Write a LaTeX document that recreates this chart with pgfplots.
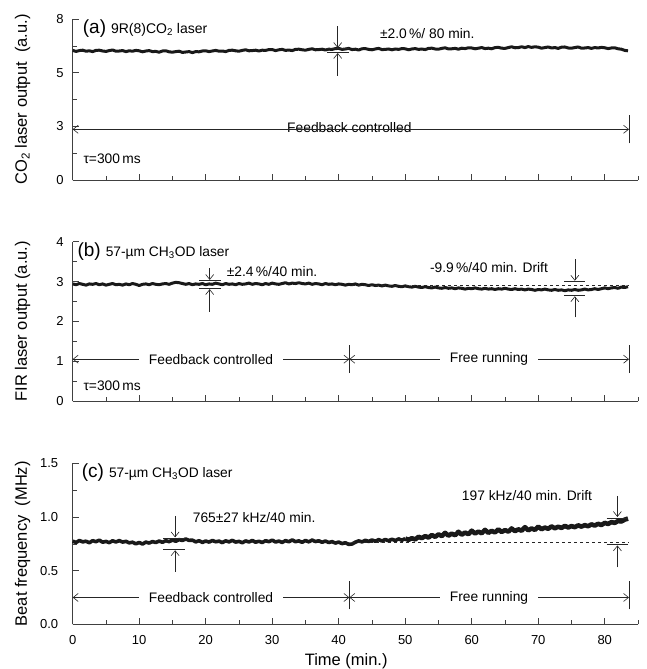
\documentclass[border=0pt]{standalone}
\usepackage{fontspec}
\setmainfont{Liberation Sans}
\usepackage{pgfplots}
\pgfplotsset{compat=1.18}
\usetikzlibrary{arrows.meta}

\newcommand\af{\fontsize{13.8}{16}\selectfont}
\newcommand\lf{\fontsize{16.5}{19}\selectfont}
\newcommand\pf{\fontsize{19}{22}\selectfont}

\pgfplotsset{
  panel/.style={
    scale only axis, width=565.3pt,
    xmin=0, xmax=85, axis lines=left,
    axis line style={-, black!75, line width=0.6pt},
    xtick={0,10,...,80}, minor xtick={5,15,...,85},
    tick align=inside, major tick length=6pt, minor tick length=4pt,
    tick style={black!75, line width=0.6pt},
    ticklabel style={font=\fontsize{13}{15}\selectfont},
    /pgf/number format/assume math mode=true,
    yticklabel shift=5.5pt,
    xticklabel shift=7.4pt,
    ylabel style={at={(axis description cs:-0.0884,0.5)}, anchor=center, font=\lf},
    clip=false,
  },
}
\tikzset{
  trace/.style={black!90, line width=3pt, line join=round, mark=none},
  ar/.style={-{Straight Barb[length=5pt,width=8pt]}, line width=0.6pt, black!85},
  lr/.style={{Straight Barb[length=5pt,width=8pt]}-{Straight Barb[length=5pt,width=8pt]}, line width=0.6pt, black!85},
  bar/.style={line width=0.6pt, black!85},
}

\begin{document}
\begin{tikzpicture}
\useasboundingbox (0,0) rectangle (647pt,-669pt);

% (a) CO2 laser
\begin{axis}[panel, at={(72.7pt,-180pt)}, anchor=south west, height=161pt,
  ymin=0, ymax=8, ytick={0,2.6667,5.3333,8}, yticklabels={0,3,5,8},
  minor ytick={1.3333,4,6.6667}, xticklabels={},
  ylabel={CO\textsubscript{2} laser output\ \ (a.u.)}]
\addplot[trace] coordinates {
(0,6.44) (0.5,6.39) (1,6.43) (1.5,6.45) (2,6.40) (2.5,6.42) (3,6.38) (3.5,6.44) (4,6.45) (4.5,6.41)
(5,6.39) (5.5,6.43) (6,6.46) (6.5,6.40) (7,6.41) (7.5,6.43) (8,6.38) (8.5,6.42) (9,6.40) (9.5,6.44)
(10,6.42) (10.5,6.37) (11,6.41) (11.5,6.43) (12,6.38) (12.5,6.39) (13,6.35) (13.5,6.41) (14,6.42) (14.5,6.37)
(15,6.35) (15.5,6.38) (16,6.40) (16.5,6.34) (17,6.36) (17.5,6.38) (18,6.33) (18.5,6.38) (19,6.37) (19.5,6.41)
(20,6.42) (20.5,6.38) (21,6.41) (21.5,6.44) (22,6.40) (22.5,6.41) (23,6.38) (23.5,6.44) (24,6.45) (24.5,6.42)
(25,6.40) (25.5,6.44) (26,6.47) (26.5,6.42) (27,6.43) (27.5,6.45) (28,6.41) (28.5,6.45) (29,6.44) (29.5,6.48)
(30,6.48) (30.5,6.43) (31,6.47) (31.5,6.49) (32,6.44) (32.5,6.46) (33,6.43) (33.5,6.49) (34,6.50) (34.5,6.47)
(35,6.45) (35.5,6.49) (36,6.52) (36.5,6.47) (37,6.48) (37.5,6.50) (38,6.46) (38.5,6.50) (39,6.49) (39.5,6.53)
(40,6.54) (40.5,6.49) (41,6.51) (41.5,6.54) (42,6.48) (42.5,6.50) (43,6.46) (43.5,6.52) (44,6.53) (44.5,6.49)
(45,6.47) (45.5,6.51) (46,6.54) (46.5,6.48) (47,6.49) (47.5,6.51) (48,6.47) (48.5,6.51) (49,6.49) (49.5,6.53)
(50,6.52) (50.5,6.47) (51,6.51) (51.5,6.53) (52,6.49) (52.5,6.51) (53,6.48) (53.5,6.54) (54,6.55) (54.5,6.51)
(55,6.50) (55.5,6.54) (56,6.57) (56.5,6.51) (57,6.52) (57.5,6.54) (58,6.50) (58.5,6.55) (59,6.53) (59.5,6.57)
(60,6.56) (60.5,6.52) (61,6.55) (61.5,6.58) (62,6.53) (62.5,6.55) (63,6.52) (63.5,6.58) (64,6.59) (64.5,6.55)
(65,6.54) (65.5,6.58) (66,6.62) (66.5,6.57) (67,6.58) (67.5,6.62) (68,6.58) (68.5,6.63) (69,6.59) (69.5,6.62)
(70,6.60) (70.5,6.55) (71,6.58) (71.5,6.61) (72,6.56) (72.5,6.58) (73,6.54) (73.5,6.60) (74,6.61) (74.5,6.56)
(75,6.55) (75.5,6.58) (76,6.61) (76.5,6.55) (77,6.56) (77.5,6.58) (78,6.54) (78.5,6.58) (79,6.56) (79.5,6.59)
(80,6.57) (80.5,6.53) (81,6.56) (81.5,6.57) (82,6.52) (82.5,6.50) (83,6.44) (83.5,6.42)
};
\node[anchor=base west, inner sep=0pt] at (1.5,7.28) {\pf (a)\hspace{5pt}{\fontsize{14}{16}\selectfont 9R(8)CO\textsubscript{2} laser}};
\node[anchor=base west, inner sep=0pt] at (1.6,0.83) {\af τ=300\,ms};
\node[anchor=base west, inner sep=0pt] at (46.2,7.04) {\af ±2.0\,\%/ 80 min.};
\draw[ar] (39.85,7.65) -- (39.85,6.56);
\draw[ar] (39.85,5.17) -- (39.85,6.31);
\draw[bar] (38.3,6.54) -- (41.6,6.54);
\draw[bar] (38.3,6.33) -- (41.6,6.33);
\node[anchor=base, inner sep=0pt] at (41.6,2.37) {\af Feedback controlled};
\draw[lr] (0,2.52) -- (83.65,2.52);
\draw[bar] (83.65,1.82) -- (83.65,3.23);
\end{axis}

% (b) FIR laser
\begin{axis}[panel, at={(72.7pt,-401pt)}, anchor=south west, height=159.3pt,
  ymin=0, ymax=4, ytick={0,1,2,3,4}, minor ytick={0.5,1.5,2.5,3.5}, xticklabels={},
  ylabel={FIR laser output (a.u.)}]
\addplot[trace] coordinates {
(0,2.94) (0.5,2.92) (1,2.95) (1.5,2.93) (2,2.91) (2.5,2.94) (3,2.93) (3.5,2.95) (4,2.92) (4.5,2.94)
(5,2.91) (5.5,2.93) (6,2.95) (6.5,2.92) (7,2.93) (7.5,2.91) (8,2.94) (8.5,2.92) (9,2.95) (9.5,2.93)
(10,2.90) (10.5,2.93) (11,2.94) (11.5,2.92) (12,2.95) (12.5,2.93) (13,2.92) (13.5,2.94) (14,2.95) (14.5,2.93)
(15,2.96) (15.5,2.98) (16,2.97) (16.5,2.95) (17,2.93) (17.5,2.95) (18,2.92) (18.5,2.94) (19,2.93) (19.5,2.95)
(20,2.92) (20.5,2.94) (21,2.93) (21.5,2.96) (22,2.94) (22.5,2.92) (23,2.95) (23.5,2.93) (24,2.94) (24.5,2.92)
(25,2.95) (25.5,2.93) (26,2.94) (26.5,2.96) (27,2.93) (27.5,2.95) (28,2.94) (28.5,2.92) (29,2.95) (29.5,2.93)
(30,2.96) (30.5,2.94) (31,2.93) (31.5,2.95) (32,2.97) (32.5,2.94) (33,2.96) (33.5,2.95) (34,2.97) (34.5,2.95)
(35,2.94) (35.5,2.96) (36,2.93) (36.5,2.95) (37,2.94) (37.5,2.92) (38,2.95) (38.5,2.93) (39,2.94) (39.5,2.92)
(40,2.94) (40.5,2.93) (41,2.91) (41.5,2.93) (42,2.92) (42.5,2.94) (43,2.91) (43.5,2.93) (44,2.92) (44.5,2.90)
(45,2.92) (45.5,2.90) (46,2.91) (46.5,2.89) (47,2.91) (47.5,2.89) (48,2.88) (48.5,2.90) (49,2.88) (49.5,2.87)
(50,2.89) (50.5,2.87) (51,2.86) (51.5,2.88) (52,2.86) (52.5,2.85) (53,2.87) (53.5,2.85) (54,2.84) (54.5,2.86)
(55,2.84) (55.5,2.83) (56,2.85) (56.5,2.83) (57,2.84) (57.5,2.82) (58,2.84) (58.5,2.83) (59,2.81) (59.5,2.83)
(60,2.82) (60.5,2.84) (61,2.82) (61.5,2.81) (62,2.83) (62.5,2.81) (63,2.82) (63.5,2.80) (64,2.82) (64.5,2.81)
(65,2.83) (65.5,2.81) (66,2.80) (66.5,2.82) (67,2.80) (67.5,2.81) (68,2.79) (68.5,2.81) (69,2.80) (69.5,2.78)
(70,2.80) (70.5,2.79) (71,2.81) (71.5,2.79) (72,2.78) (72.5,2.80) (73,2.78) (73.5,2.79) (74,2.77) (74.5,2.79)
(75,2.78) (75.5,2.80) (76,2.78) (76.5,2.79) (77,2.81) (77.5,2.79) (78,2.80) (78.5,2.82) (79,2.80) (79.5,2.82)
(80,2.84) (80.5,2.82) (81,2.84) (81.5,2.85) (82,2.83) (82.5,2.86) (83,2.85) (83.5,2.87)
};
\addplot[black!85, line width=0.6pt, dashed, mark=none] coordinates {(42,2.91) (83.6,2.91)};
\node[anchor=base west, inner sep=0pt] at (0.7,3.64) {\pf (b)\hspace{5pt}{\af 57-µm CH\textsubscript{3}OD laser}};
\node[anchor=base west, inner sep=0pt] at (1.6,0.26) {\af τ=300\,ms};
\node[anchor=base west, inner sep=0pt] at (23.15,3.12) {\af ±2.4\,\%/40 min.};
\node[anchor=base west, inner sep=0pt] at (53.7,3.22) {\af -9.9\,\%/40 min. Drift};
\draw[ar] (20.6,3.33) -- (20.6,3.04);
\draw[ar] (20.6,2.24) -- (20.6,2.81);
\draw[bar] (19.0,3.02) -- (22.3,3.02);
\draw[bar] (19.0,2.83) -- (22.3,2.83);
\draw[ar] (75.5,3.56) -- (75.5,3.02);
\draw[ar] (75.5,2.10) -- (75.5,2.63);
\draw[bar] (73.9,3.0) -- (77.1,3.0);
\draw[bar] (73.9,2.65) -- (77.1,2.65);
\draw[lr] (0,1.05) -- (41.6,1.05);
\draw[lr] (41.6,1.05) -- (83.65,1.05);
\draw[bar] (41.6,0.70) -- (41.6,1.41);
\draw[bar] (83.65,0.70) -- (83.65,1.41);
\node[fill=white, inner xsep=10pt, inner ysep=1pt] at (20.8,1.05) {\af Feedback controlled};
\node[fill=white, inner xsep=10pt, inner ysep=1pt] at (62.6,1.05) {\af Free running};
\end{axis}

% (c) beat frequency
\begin{axis}[panel, at={(72.7pt,-624.3pt)}, anchor=south west, height=161pt,
  ymin=0, ymax=1.5, ytick={0,0.5,1,1.5}, minor ytick={0.25,0.75,1.25},
  yticklabel shift=11pt,
  yticklabel style={/pgf/number format/.cd, fixed, fixed zerofill, precision=1},
  ylabel={Beat frequency\ \ (MHz)},
  xlabel={Time (min.)},
  xlabel style={at={(axis description cs:0.4838,-0.257)}, anchor=base, font=\lf}]
\addplot[trace, line width=3.6pt] coordinates {
(0,0.775) (0.5,0.762) (1,0.781) (1.5,0.768) (2,0.774) (2.5,0.760) (3,0.779) (3.5,0.770) (4,0.784) (4.5,0.765)
(5,0.772) (5.5,0.761) (6,0.778) (6.5,0.767) (7,0.780) (7.5,0.766) (8,0.773) (8.5,0.759) (9,0.765) (9.5,0.750)
(10,0.762) (10.5,0.748) (11,0.766) (11.5,0.757) (12,0.771) (12.5,0.762) (13,0.776) (13.5,0.764) (14,0.779) (14.5,0.770)
(15,0.785) (15.5,0.774) (16,0.789) (16.5,0.781) (17,0.795) (17.5,0.782) (18,0.784) (18.5,0.768) (19,0.779) (19.5,0.763)
(20,0.776) (20.5,0.766) (21,0.781) (21.5,0.769) (22,0.775) (22.5,0.761) (23,0.778) (23.5,0.768) (24,0.782) (24.5,0.766)
(25,0.773) (25.5,0.760) (26,0.777) (26.5,0.767) (27,0.781) (27.5,0.765) (28,0.774) (28.5,0.762) (29,0.779) (29.5,0.770)
(30,0.784) (30.5,0.767) (31,0.775) (31.5,0.763) (32,0.780) (32.5,0.769) (33,0.786) (33.5,0.770) (34,0.777) (34.5,0.764)
(35,0.781) (35.5,0.768) (36,0.785) (36.5,0.771) (37,0.778) (37.5,0.764) (38,0.776) (38.5,0.762) (39,0.770) (39.5,0.757)
(40,0.766) (40.5,0.752) (41,0.760) (41.5,0.745) (42,0.748) (42.5,0.765) (43,0.777) (43.5,0.768) (44,0.783) (44.5,0.772)
(45,0.786) (45.5,0.774) (46,0.789) (46.5,0.776) (47,0.790) (47.5,0.778) (48,0.793) (48.5,0.780) (49,0.796) (49.5,0.783)
(50,0.799)
};
\addplot[trace, line width=4.6pt] coordinates {
(50,0.799) (50.5,0.787) (51,0.802) (51.5,0.791) (52,0.815) (52.5,0.803) (53,0.822) (53.5,0.808) (54,0.832) (54.5,0.815)
(55,0.838) (55.5,0.822) (56,0.852) (56.5,0.826) (57,0.845) (57.5,0.830) (58,0.862) (58.5,0.835) (59,0.855) (59.5,0.840)
(60,0.872) (60.5,0.846) (61,0.864) (61.5,0.848) (62,0.880) (62.5,0.852) (63,0.871) (63.5,0.856) (64,0.885) (64.5,0.860)
(65,0.878) (65.5,0.863) (66,0.893) (66.5,0.868) (67,0.885) (67.5,0.872) (68,0.905) (68.5,0.876) (69,0.893) (69.5,0.880)
(70,0.910) (70.5,0.886) (71,0.901) (71.5,0.890) (72,0.912) (72.5,0.895) (73,0.909) (73.5,0.898) (74,0.917) (74.5,0.902)
(75,0.915) (75.5,0.905) (76,0.922) (76.5,0.910) (77,0.924) (77.5,0.914) (78,0.931) (78.5,0.920) (79,0.936) (79.5,0.925)
(80,0.945) (80.5,0.935) (81,0.952) (81.5,0.945) (82,0.962) (82.5,0.958) (83,0.975) (83.5,0.985)
};
\addplot[black!85, line width=0.6pt, dashed, mark=none] coordinates {(42,0.764) (83.55,0.764)};
\node[anchor=base west, inner sep=0pt] at (1.35,1.366) {\pf (c)\hspace{5pt}{\af 57-µm CH\textsubscript{3}OD laser}};
\node[anchor=base west, inner sep=0pt] at (18.04,0.947) {\af 765±27 kHz/40 min.};
\node[anchor=base west, inner sep=0pt] at (58.5,1.152) {\af 197 kHz/40 min. Drift};
\draw[ar] (15.4,1.01) -- (15.4,0.81);
\draw[ar] (15.4,0.49) -- (15.4,0.69);
\draw[bar] (13.6,0.80) -- (16.9,0.80);
\draw[bar] (13.6,0.70) -- (16.9,0.70);
\draw[ar] (81.9,1.196) -- (81.9,1.0);
\draw[ar] (81.9,0.53) -- (81.9,0.735);
\draw[bar] (80.3,0.99) -- (83.55,0.99);
\draw[bar] (80.3,0.745) -- (83.55,0.745);
\draw[lr] (0,0.25) -- (41.6,0.25);
\draw[lr] (41.6,0.25) -- (83.65,0.25);
\draw[bar] (41.6,0.14) -- (41.6,0.40);
\draw[bar] (83.65,0.14) -- (83.65,0.40);
\node[fill=white, inner xsep=10pt, inner ysep=1pt] at (20.8,0.25) {\af Feedback controlled};
\node[fill=white, inner xsep=10pt, inner ysep=1pt] at (62.6,0.25) {\af Free running};
\end{axis}
\end{tikzpicture}
\end{document}
